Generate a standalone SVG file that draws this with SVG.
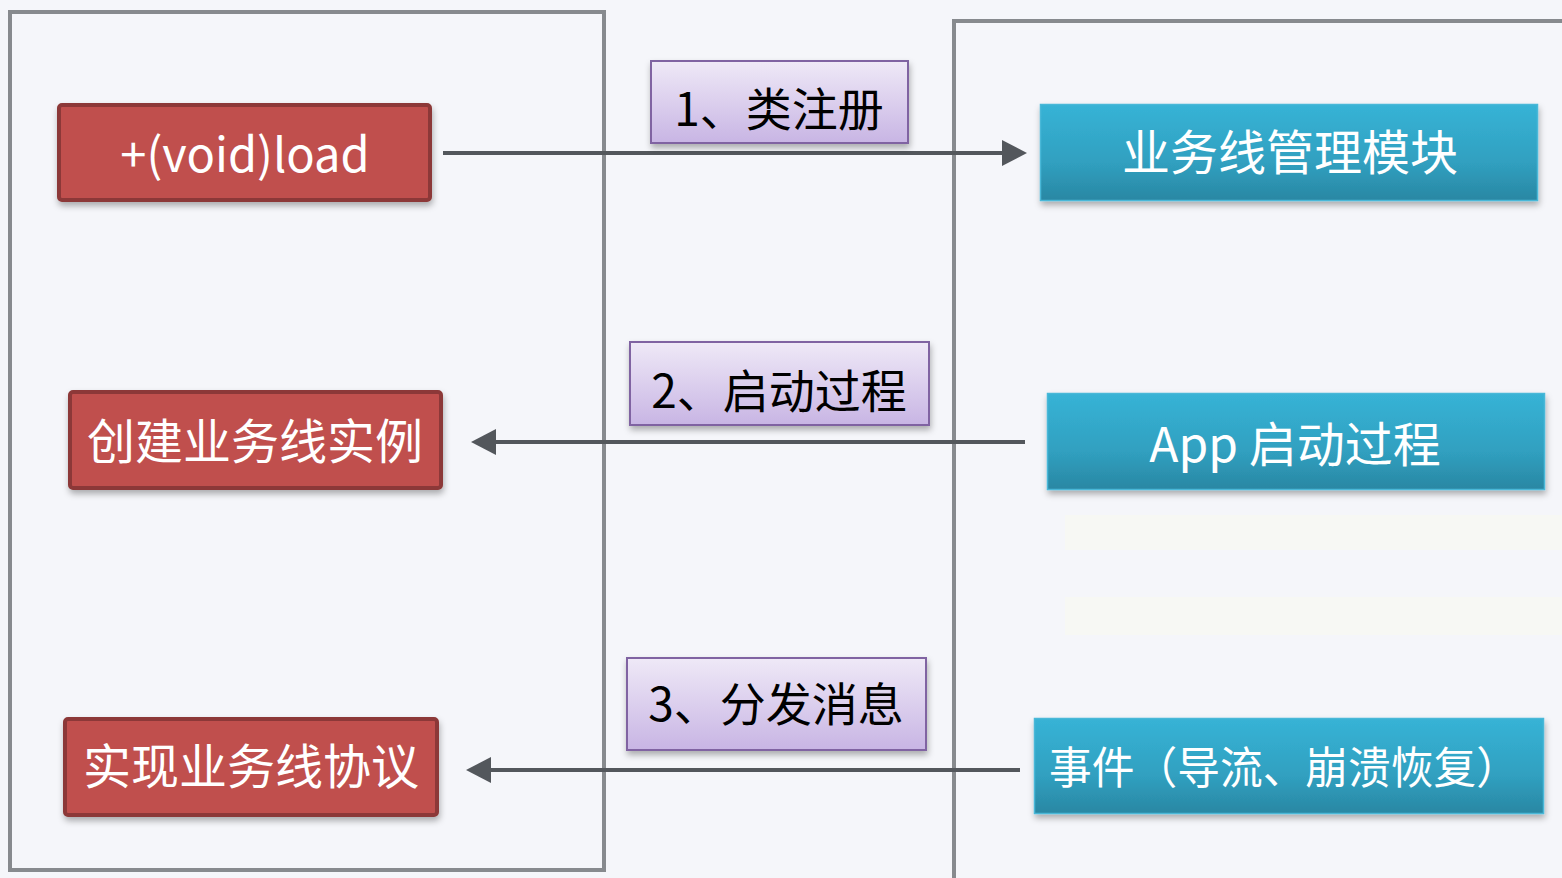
<svg xmlns="http://www.w3.org/2000/svg" width="1562" height="878" viewBox="0 0 1562 878">
  <style>
    .container { fill: none; stroke: #878a8e; stroke-width: 4; }
    .red { fill: #c0504d; stroke: #8c3937; stroke-width: 4; }
    .blue { fill: url(#blueGrad); stroke: #4ab8d8; stroke-width: 1.5; }
    .label { fill: url(#lavGrad); stroke: #8064a2; stroke-width: 2; }
    .wt { fill: #ffffff; font-family: "Noto Sans CJK SC", "Noto Sans", sans-serif; font-size: 48px; text-anchor: middle; }
    .bt { fill: #000000; font-family: "Noto Sans CJK SC", "Noto Sans", sans-serif; font-size: 46px; text-anchor: middle; }
    .conn { fill: none; stroke: #53575c; stroke-width: 4; }
  </style>
  <defs>
    <linearGradient id="blueGrad" x1="0" y1="0" x2="0" y2="1">
      <stop offset="0" stop-color="#37b3d6"/>
      <stop offset="0.6" stop-color="#30a0c0"/>
      <stop offset="1" stop-color="#2a87a3"/>
    </linearGradient>
    <linearGradient id="lavGrad" x1="0" y1="0" x2="0" y2="1">
      <stop offset="0" stop-color="#efe9f7"/>
      <stop offset="1" stop-color="#c8b5e4"/>
    </linearGradient>
    <filter id="shadow" x="-10%" y="-20%" width="120%" height="150%">
      <feDropShadow dx="1" dy="4" stdDeviation="3" flood-color="#000000" flood-opacity="0.3"/>
    </filter>
    <marker id="arrow" viewBox="0 0 25 26" refX="1" refY="13" markerWidth="25" markerHeight="26" markerUnits="userSpaceOnUse" orient="auto">
      <path d="M0,0 L25,13 L0,26 Z" fill="#53575c"/>
    </marker>
  </defs>

  <rect x="0" y="0" width="1562" height="878" fill="#f5f6fa"/>
  <g id="background" opacity="0.5">
    <rect x="1065" y="515" width="497" height="35" fill="#fafaf0"/>
    <rect x="1065" y="597" width="497" height="38" fill="#fafaf0"/>
  </g>

  <g id="containers">
    <rect id="left-container" class="container" x="10" y="12" width="594" height="858"/>
    <rect id="right-container" class="container" x="954" y="21" width="640" height="900"/>
  </g>

  <g id="connectors">
    <path class="conn" d="M443,153 L1003,153" marker-end="url(#arrow)"/>
    <path class="conn" d="M1025,442 L495,442" marker-end="url(#arrow)"/>
    <path class="conn" d="M1020,770 L490,770" marker-end="url(#arrow)"/>
  </g>

  <g id="label-1">
    <rect class="label" x="651" y="61" width="257" height="82" filter="url(#shadow)"/>
    <text class="bt" x="779" y="126">1、类注册</text>
  </g>
  <g id="label-2">
    <rect class="label" x="630" y="342" width="299" height="83" filter="url(#shadow)"/>
    <text class="bt" x="779" y="408">2、启动过程</text>
  </g>
  <g id="label-3">
    <rect class="label" x="627" y="658" width="299" height="92" filter="url(#shadow)"/>
    <text class="bt" x="776" y="721">3、分发消息</text>
  </g>

  <g id="node-load">
    <rect class="red" x="59" y="105" width="371" height="95" rx="3" filter="url(#shadow)"/>
    <text class="wt" x="245" y="172" style="font-size:47px">+(void)load</text>
  </g>
  <g id="node-create">
    <rect class="red" x="70" y="392" width="371" height="96" rx="3" filter="url(#shadow)"/>
    <text class="wt" x="255" y="459">创建业务线实例</text>
  </g>
  <g id="node-implement">
    <rect class="red" x="65" y="719" width="372" height="96" rx="3" filter="url(#shadow)"/>
    <text class="wt" x="251" y="784">实现业务线协议</text>
  </g>

  <g id="node-manager">
    <rect class="blue" x="1040.5" y="104.5" width="497" height="96" filter="url(#shadow)"/>
    <text class="wt" x="1290" y="170">业务线管理模块</text>
  </g>
  <g id="node-app">
    <rect class="blue" x="1047.5" y="393.5" width="497" height="96" filter="url(#shadow)"/>
    <text class="wt" x="1295" y="462">App 启动过程</text>
  </g>
  <g id="node-event">
    <rect class="blue" x="1034.5" y="718.5" width="509" height="95" filter="url(#shadow)"/>
    <text class="wt" x="1284" y="784" style="font-size:44px" textLength="470" lengthAdjust="spacingAndGlyphs">事件（导流、崩溃恢复）</text>
  </g>
</svg>
